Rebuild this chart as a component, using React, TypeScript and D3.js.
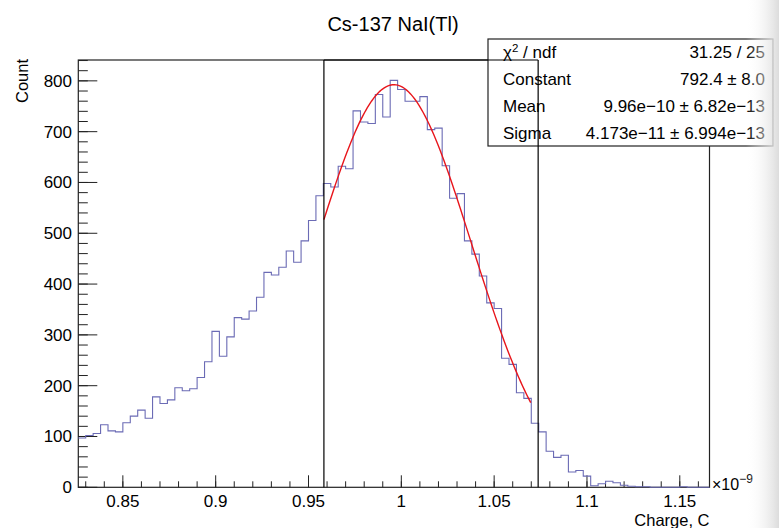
import React from 'react';
import * as d3 from 'd3';

// histogram: 85 bins of 0.004 (x1e-9 C), starting at 0.826
const binLow = 0.826;
const binWidth = 0.004;
const counts = [
  97, 102, 106, 123, 111, 109, 127, 140, 152, 136,
  178, 165, 172, 196, 190, 194, 216, 247, 307, 258,
  296, 334, 331, 347, 374, 423, 418, 433, 465, 443,
  485, 525, 574, 598, 591, 632, 627, 741, 719, 716,
  773, 729, 801, 783, 760, 760, 769, 704, 707, 633,
  569, 578, 485, 459, 416, 363, 352, 254, 242, 186,
  175, 126, 109, 71, 59, 63, 30, 33, 22, 3,
  7, 12, 9, 4, 2, 1, 1, 0, 0, 0,
  0, 1, 0, 0, 0,
];

const xMajorTicks = [0.85, 0.9, 0.95, 1, 1.05, 1.1, 1.15];
const xTickLabels = ['0.85', '0.9', '0.95', '1', '1.05', '1.1', '1.15'];
const yMajorTicks = [0, 100, 200, 300, 400, 500, 600, 700, 800];

// gaussian fit parameters (from the stat box)
const fitConstant = 792.4;
const fitMean = 0.996;
const fitSigma = 0.04173;
const fitRange = [0.9583, 1.0697];
// range marker box drawn by the user
const markerRange = [0.9583, 1.0737];

const statNames = ['Constant', 'Mean', 'Sigma'];
const statValues = ['31.25 / 25', '792.4 \u00b1 8.0', '9.96e\u221210 \u00b1 6.82e\u221213', '4.173e\u221211 \u00b1 6.994e\u221213'];

const W = 779;
const H = 528;
const font = '"Liberation Sans", Arial, Helvetica, sans-serif';

export default function App() {
  const x = d3.scaleLinear().domain([binLow, binLow + binWidth * counts.length]).range([78.3, 709.5]);
  const yMax = d3.max(counts)! * 1.05;
  const y = d3.scaleLinear().domain([0, yMax]).range([487.3, 60]);

  const stepPts: [number, number][] = counts.map((c, i) => [binLow + i * binWidth, c]);
  stepPts.push([binLow + counts.length * binWidth, counts[counts.length - 1]]);
  const histLine = d3.line<[number, number]>()
    .x(d => x(d[0]))
    .y(d => y(d[1]))
    .curve(d3.curveStepAfter);

  const gaus = (v: number) => fitConstant * Math.exp(-0.5 * ((v - fitMean) / fitSigma) ** 2);
  const fitPts = d3.range(0, 101).map(i => {
    const v = fitRange[0] + (fitRange[1] - fitRange[0]) * i / 100;
    return [v, gaus(v)] as [number, number];
  });
  const fitLine = d3.line<[number, number]>().x(d => x(d[0])).y(d => y(d[1])).curve(d3.curveLinear);

  const xMinor = d3.range(83, 117).map(i => i / 100).filter(v => v >= binLow && v <= 1.166);
  const yMinor = d3.range(0, Math.floor(yMax / 20) + 1).map(i => i * 20);

  const [x0, x1] = x.range();
  const [yb, yt] = y.range();

  const boxX = 488, boxY = 39, boxW = 285, boxH = 107;
  const rowH = boxH / 4;

  return (
    <svg width={W} height={H} style={{ position: 'absolute', left: 0, top: 0, background: '#fff' }}
      fontFamily={font}>
      <defs>
        <linearGradient id="edge" x1="0" x2="1" y1="0" y2="0">
          <stop offset="0%" stopColor="#ffffff" stopOpacity={0} />
          <stop offset="100%" stopColor="#dcdcdc" stopOpacity={1} />
        </linearGradient>
      </defs>
      <rect x={0} y={0} width={W} height={H} fill="#fff" />

      {/* title */}
      <text x={393} y={31} textAnchor="middle" fontSize={20} fill="#000">Cs-137 NaI(Tl)</text>

      {/* frame */}
      <rect x={x0} y={yt} width={x1 - x0} height={yb - yt} fill="none" stroke="#222" strokeWidth={1.2} />

      {/* x ticks */}
      {xMinor.map(v => (
        <line key={'xm' + v} x1={x(v)} x2={x(v)} y1={yb} y2={yb - 6} stroke="#222" strokeWidth={1} />
      ))}
      {xMajorTicks.map((v, i) => (
        <g key={'xM' + v}>
          <line x1={x(v)} x2={x(v)} y1={yb} y2={yb - 12} stroke="#222" strokeWidth={1} />
          <text x={x(v)} y={507} textAnchor="middle" fontSize={17} fill="#000">{xTickLabels[i]}</text>
        </g>
      ))}
      <text x={712} y={490} fontSize={16} fill="#000">
        {'\u00d710'}
        <tspan dy={-7} fontSize={12}>{'\u22129'}</tspan>
      </text>
      <text x={x1} y={526} textAnchor="end" fontSize={16.5} fill="#000">Charge, C</text>

      {/* y ticks */}
      {yMinor.map(v => (
        <line key={'ym' + v} x1={x0} x2={x0 + 9.5} y1={y(v)} y2={y(v)} stroke="#222" strokeWidth={1} />
      ))}
      {yMajorTicks.map(v => (
        <g key={'yM' + v}>
          <line x1={x0} x2={x0 + 19} y1={y(v)} y2={y(v)} stroke="#222" strokeWidth={1} />
          <text x={72} y={y(v) + 6} textAnchor="end" fontSize={17} fill="#000">{v}</text>
        </g>
      ))}
      <text transform={`translate(28,${yt - 1}) rotate(-90)`} textAnchor="end" fontSize={16.5} fill="#000">Count</text>

      {/* histogram */}
      <path d={histLine(stepPts)!} fill="none" stroke="#6b6bb5" strokeWidth={1.1} />

      {/* fit */}
      <path d={fitLine(fitPts)!} fill="none" stroke="#e8151b" strokeWidth={1.4} />

      {/* stat box */}
      <rect x={boxX} y={boxY} width={boxW} height={boxH} fill="#fff" stroke="#222" strokeWidth={1.2} />
      <text x={boxX + 15} y={boxY + rowH * 0.5 + 6} fontSize={17} fill="#000">
        {'\u03c7'}<tspan dy={-6} fontSize={11.5}>2</tspan><tspan dy={6}>{' / ndf'}</tspan>
      </text>
      {statNames.map((n, i) => (
        <text key={n} x={boxX + 15} y={boxY + rowH * (i + 1.5) + 6} fontSize={17} fill="#000">{n}</text>
      ))}
      {statValues.map((s, i) => (
        <text key={s} x={boxX + boxW - 8} y={boxY + rowH * (i + 0.5) + 6} textAnchor="end" fontSize={17} fill="#000">{s}</text>
      ))}

      {/* marker box drawn over everything */}
      <line x1={x(markerRange[0])} x2={x(markerRange[0])} y1={yb} y2={yt} stroke="#000" strokeWidth={1.2} />
      <line x1={x(markerRange[1])} x2={x(markerRange[1])} y1={yb} y2={yt} stroke="#000" strokeWidth={1.2} />
      <line x1={x(markerRange[0])} x2={x(markerRange[1])} y1={yt} y2={yt} stroke="#000" strokeWidth={1.2} />

      {/* window edge shading */}
      <rect x={746} y={0} width={W - 746} height={H} fill="url(#edge)" />
    </svg>
  );
}
